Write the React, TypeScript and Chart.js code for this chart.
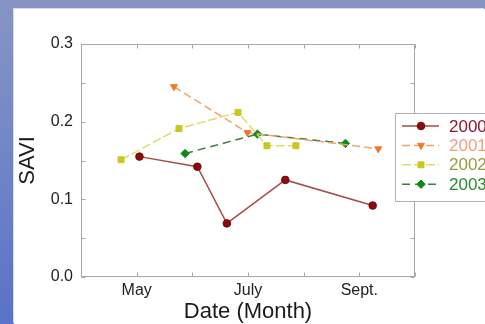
import React, { useEffect, useRef } from 'react';
import { Chart, registerables } from 'chart.js';
import { drawPoint } from 'chart.js/helpers';

Chart.register(...registerables);

// ---- data ----
const seriesNames = ['2000', '2001', '2002', '2003'];
const x2000 = [5.05, 6.09, 6.62, 7.67, 9.24];
const y2000 = [0.155, 0.142, 0.069, 0.125, 0.092];
const x2001 = [5.67, 6.99, 9.34];
const y2001 = [0.245, 0.186, 0.165];
const x2002 = [4.72, 5.76, 6.82, 7.34, 7.86];
const y2002 = [0.151, 0.191, 0.212, 0.169, 0.169];
const x2003 = [5.87, 7.17, 8.75];
const y2003 = [0.159, 0.184, 0.172];

const xMin = 4;
const xMax = 10;
const monthTickValues = [5, 7, 9];
const monthTickLabels = ['May', 'July', 'Sept.'];
const yMin = 0;
const yMax = 0.3;
const yStep = 0.05;

const xTitle = 'Date (Month)';
const yTitle = 'SAVI';

// ---- styles ----
const FONT = "'Liberation Sans', Arial, sans-serif";
const legendTextColors = ['#8b1a2e', '#f0a080', '#9c9a3c', '#2a8a2a'];

const toPts = (xs: number[], ys: number[]) => xs.map((x, i) => ({ x, y: ys[i] }));

const framePlugin = {
  id: 'frame',
  beforeDatasetsDraw(chart: any) {
    const { ctx, chartArea, scales } = chart;
    const { left, right, top, bottom } = chartArea;
    ctx.save();
    ctx.strokeStyle = '#a8a8a8';
    ctx.lineWidth = 1;
    ctx.setLineDash([]);
    const l = Math.round(left) + 0.5;
    const r = Math.round(right) - 0.5;
    const t = Math.round(top) + 0.5;
    const b = Math.round(bottom) - 0.5;
    ctx.strokeRect(l, t, r - l, b - t);
    const tl = 4;
    ctx.beginPath();
    scales.x.ticks.forEach((tk: any) => {
      const px = Math.round(scales.x.getPixelForValue(tk.value)) + 0.5;
      ctx.moveTo(px, b);
      ctx.lineTo(px, b - tl);
      ctx.moveTo(px, t);
      ctx.lineTo(px, t + tl);
    });
    scales.y.ticks.forEach((tk: any) => {
      const py = Math.round(scales.y.getPixelForValue(tk.value)) + 0.5;
      ctx.moveTo(l, py);
      ctx.lineTo(l + tl, py);
      ctx.moveTo(r, py);
      ctx.lineTo(r - tl, py);
    });
    ctx.stroke();
    ctx.restore();
  },
};

const legendPlugin = {
  id: 'customLegend',
  afterDraw(chart: any) {
    const { ctx } = chart;
    const boxL = 381.5;
    const boxT = 104.5;
    const boxB = 192.5;
    const boxR = 490;
    ctx.save();
    ctx.fillStyle = '#ffffff';
    ctx.fillRect(boxL, boxT, boxR - boxL, boxB - boxT);
    ctx.strokeStyle = '#b0b0b0';
    ctx.lineWidth = 1;
    ctx.setLineDash([]);
    ctx.strokeRect(boxL, boxT, boxR - boxL, boxB - boxT);
    const rowY0 = 117;
    const rowGap = 19.4;
    chart.data.datasets.forEach((ds: any, i: number) => {
      const y = rowY0 + i * rowGap;
      ctx.save();
      ctx.strokeStyle = ds.borderColor;
      ctx.lineWidth = ds.borderWidth;
      ctx.setLineDash(ds.borderDash || []);
      ctx.beginPath();
      ctx.moveTo(388, y);
      ctx.lineTo(425, y);
      ctx.stroke();
      ctx.setLineDash([]);
      ctx.fillStyle = ds.pointBackgroundColor;
      ctx.strokeStyle = ds.pointBorderColor;
      ctx.lineWidth = ds.pointBorderWidth;
      drawPoint(ctx, {
        pointStyle: ds.pointStyle,
        radius: ds.pointRadius,
        rotation: ds.pointRotation || 0,
        borderWidth: ds.pointBorderWidth,
      } as any, 407, y);
      ctx.restore();
      ctx.fillStyle = legendTextColors[i];
      ctx.font = `17px ${FONT}`;
      ctx.textAlign = 'left';
      ctx.textBaseline = 'middle';
      ctx.fillText(ds.label, 435, y + 1);
    });
    ctx.restore();
  },
};

export default function App() {
  const canvasRef = useRef<HTMLCanvasElement | null>(null);

  useEffect(() => {
    const canvas = canvasRef.current;
    if (!canvas) return;
    const chart = new Chart(canvas, {
      type: 'line',
      data: {
        datasets: [
          {
            label: seriesNames[0],
            data: toPts(x2000, y2000),
            borderColor: '#a84a4a',
            borderWidth: 1.5,
            pointStyle: 'circle',
            pointRadius: 3.8,
            pointBackgroundColor: '#8c0a0a',
            pointBorderColor: '#760808',
            pointBorderWidth: 1,
          },
          {
            label: seriesNames[1],
            data: toPts(x2001, y2001),
            borderColor: '#f2a466',
            borderWidth: 1.5,
            borderDash: [8, 4],
            pointStyle: 'triangle',
            pointRotation: 180,
            pointRadius: 4,
            pointBackgroundColor: '#f07a22',
            pointBorderColor: '#f07a22',
            pointBorderWidth: 1,
          },
          {
            label: seriesNames[2],
            data: toPts(x2002, y2002),
            borderColor: '#e2dc6a',
            borderWidth: 1.5,
            borderDash: [9, 3],
            pointStyle: 'rect',
            pointRadius: 4.2,
            pointBackgroundColor: '#c9c61c',
            pointBorderColor: '#c9c61c',
            pointBorderWidth: 1,
          },
          {
            label: seriesNames[3],
            data: toPts(x2003, y2003),
            borderColor: '#3e7e44',
            borderWidth: 1.5,
            borderDash: [8, 5],
            pointStyle: 'rectRot',
            pointRadius: 4.2,
            pointBackgroundColor: '#0e8a18',
            pointBorderColor: '#0e8a18',
            pointBorderWidth: 1,
          },
        ] as any,
      },
      options: {
        responsive: false,
        animation: false,
        devicePixelRatio: 1,
        layout: { padding: { left: 0, top: 35, right: 70, bottom: 0 } },
        plugins: { legend: { display: false }, tooltip: { enabled: false } },
        scales: {
          x: {
            type: 'linear',
            min: xMin,
            max: xMax,
            afterFit: (s: any) => { s.height = 47; },
            grid: { display: false, drawTicks: false },
            border: { display: false },
            ticks: {
              stepSize: 1,
              autoSkip: false,
              maxRotation: 0,
              padding: 4,
              color: '#222',
              font: { family: FONT, size: 16 },
              callback: (v: any) => {
                const i = monthTickValues.indexOf(Number(v));
                return i >= 0 ? monthTickLabels[i] : '';
              },
            },
            title: {
              display: true,
              text: xTitle,
              color: '#1a1a1a',
              font: { family: FONT, size: 22, lineHeight: 1 },
              padding: { top: 0, bottom: 1 },
            },
          },
          y: {
            type: 'linear',
            min: yMin,
            max: yMax,
            afterFit: (s: any) => { s.width = 67; },
            grid: { display: false, drawTicks: false },
            border: { display: false },
            ticks: {
              stepSize: yStep,
              autoSkip: false,
              padding: 8,
              color: '#222',
              font: { family: FONT, size: 16 },
              callback: (v: any) => {
                const n = Number(v);
                return Math.abs(Math.round(n * 10) - n * 10) < 1e-6 ? n.toFixed(1) : '';
              },
            },
            title: {
              display: true,
              text: yTitle,
              color: '#1a1a1a',
              font: { family: FONT, size: 22, lineHeight: 1 },
              padding: { top: 3, bottom: 0 },
            },
          },
        },
      } as any,
      plugins: [framePlugin, legendPlugin],
    });
    return () => chart.destroy();
  }, []);

  return (
    <div
      style={{
        position: 'fixed',
        left: 0,
        top: 0,
        width: 485,
        height: 324,
        overflow: 'hidden',
        background: 'linear-gradient(180deg, #8794c4 0%, #7386c6 45%, #5a72c8 100%)',
      }}
    >
      <div
        style={{
          position: 'absolute',
          left: 14,
          top: 9,
          width: 471,
          height: 315,
          background: '#ffffff',
          boxShadow: '-1px -1px 0 #d4daf2',
        }}
      >
        <canvas ref={canvasRef} width={471} height={315} style={{ display: 'block', width: 471, height: 315 }} />
      </div>
    </div>
  );
}
